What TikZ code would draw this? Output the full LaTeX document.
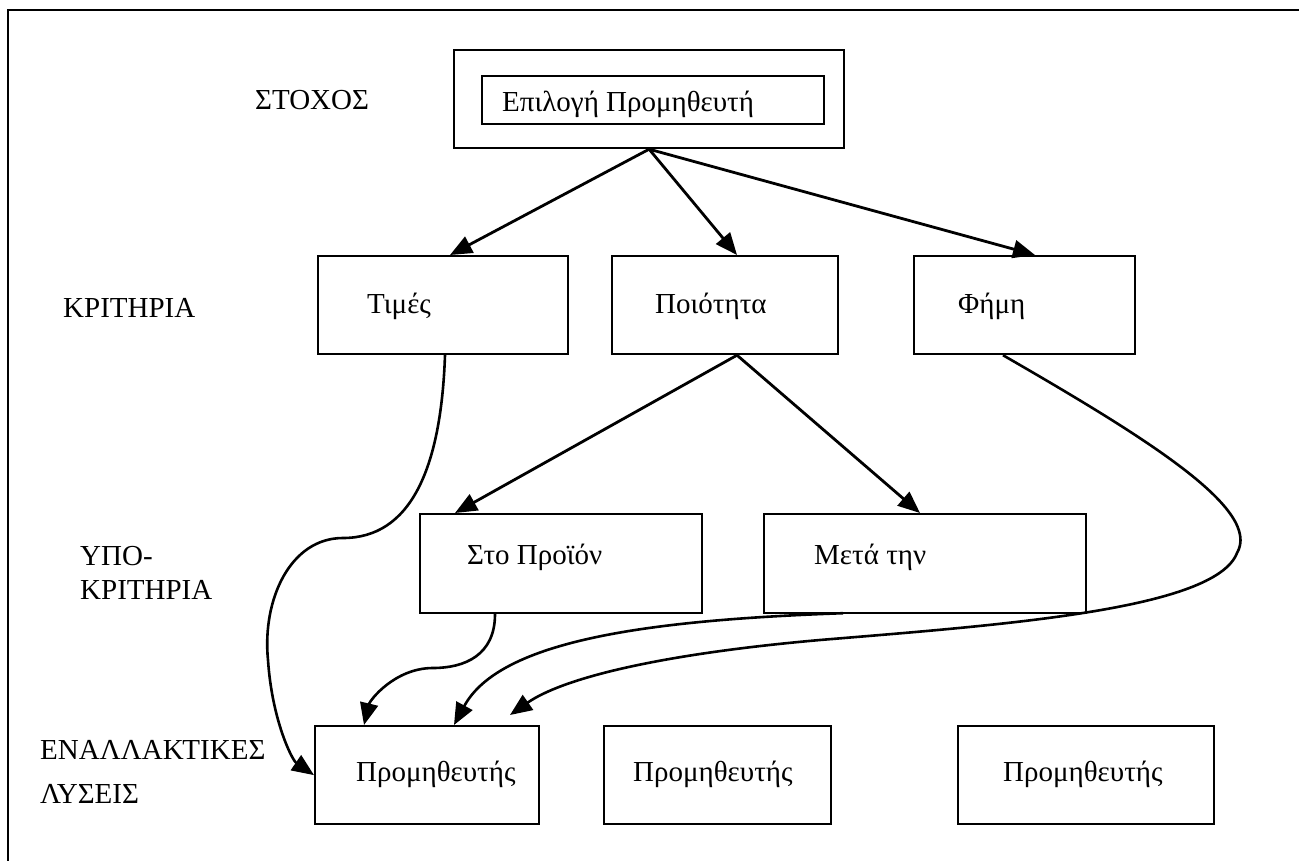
\documentclass[tikz,border=0pt]{standalone}
\usepackage{fontspec}
\setmainfont{Liberation Serif}
\usetikzlibrary{arrows.meta,calc}
\tikzset{
  boxnode/.style={draw, line width=2.2pt, anchor=north west, inner sep=0pt},
  txt/.style={anchor=base west, inner sep=0pt, font=\fontsize{29}{34}\selectfont},
  arr/.style={line width=2.8pt, -{Triangle[length=22pt,width=18pt]}},
  curv/.style={line width=2.6pt, -{Triangle[length=22pt,width=18pt]}},
}
\begin{document}
\begin{tikzpicture}[x=1pt,y=-1pt]
\useasboundingbox (0,0) rectangle (1299,861);
% frame
\draw[line width=2.6pt] (8,861) -- (8,10) -- (1299,10);

% goal
\node[boxnode, minimum width=390pt, minimum height=98pt] (goal) at (453,49) {};
\node[boxnode, minimum width=342pt, minimum height=48pt] (goalin) at (481,75) {};
\begin{scope}
\clip (goalin.north west) rectangle (goalin.south east);
\node[txt] (goaltxt) at (502,112) {Επιλογή Προμηθευτή};
\end{scope}

% level labels
\node[txt] (lstoxos) at (255,110) {ΣΤΟΧΟΣ};
\node[txt] (lkrit) at (63,317) {ΚΡΙΤΗΡΙΑ};
\node[txt] (lypo1) at (80,565) {ΥΠΟ-};
\node[txt] (lypo2) at (80,599) {ΚΡΙΤΗΡΙΑ};
\node[txt] (lenal1) at (40,759) {ΕΝΑΛΛΑΚΤΙΚΕΣ};
\node[txt] (lenal2) at (40,803) {ΛΥΣΕΙΣ};

% criteria
\node[boxnode, minimum width=250pt, minimum height=98pt] (tim) at (317,255) {};
\node[txt] (timtxt) at (367,313) {Τιμές};
\node[boxnode, minimum width=226pt, minimum height=98pt] (poi) at (611,255) {};
\node[txt] (poitxt) at (655,313) {Ποιότητα};
\node[boxnode, minimum width=221pt, minimum height=98pt] (fim) at (913,255) {};
\node[txt] (fimtxt) at (958,313) {Φήμη};

% sub-criteria
\node[boxnode, minimum width=282pt, minimum height=99pt] (sto) at (419,513) {};
\node[txt] (stotxt) at (467,564) {Στο Προϊόν};
\node[boxnode, minimum width=322pt, minimum height=99pt] (met) at (763,513) {};
\node[txt] (mettxt) at (814,564) {Μετά την};

% alternatives
\node[boxnode, minimum width=224pt, minimum height=98pt] (pa) at (314,725) {};
\node[txt] (patxt) at (356,781) {Προμηθευτής};
\node[boxnode, minimum width=227pt, minimum height=98pt] (pb) at (603,725) {};
\node[txt] (pbtxt) at (633,781) {Προμηθευτής};
\node[boxnode, minimum width=256pt, minimum height=98pt] (pc) at (957,725) {};
\node[txt] (pctxt) at (1003,781) {Προμηθευτής};

% straight arrows
\draw[arr] (goal.south) -- ($(tim.north west)+(133,0)$);
\draw[arr] (goal.south) -- ($(poi.north west)+(126,0)$);
\draw[arr] (goal.south) -- ($(fim.north west)+(122,0)$);
\draw[arr] ($(poi.south west)+(126,0)$) -- ($(sto.north west)+(36,0)$);
\draw[arr] ($(poi.south west)+(126,0)$) -- ($(met.north west)+(157,0)$);

% curved connectors
\draw[curv] ($(tim.south west)+(128,0)$)
  .. controls (441,470) and (410,538) .. (343,538)
  .. controls (290,538) and (262,600) .. (268,660)
  .. controls (272,720) and (292,760) .. (pa.west);
\draw[curv] ($(sto.south west)+(76,0)$)
  .. controls (495,655) and (465,668) .. (433,668)
  .. controls (395,668) and (370,700) .. ($(pa.north west)+(50,0)$);
\draw[curv] ($(met.south west)+(80,-1)$)
  .. controls (650,620) and (500,640) .. ($(pa.north west)+(140,0)$);
\draw[curv] ($(fim.south west)+(90,0)$)
  .. controls (1150,440) and (1262,510) .. (1237,553)
  .. controls (1215,610) and (1000,625) .. (820,640)
  .. controls (650,655) and (560,680) .. ($(pa.north west)+(196,-10)$);
\end{tikzpicture}
\end{document}
